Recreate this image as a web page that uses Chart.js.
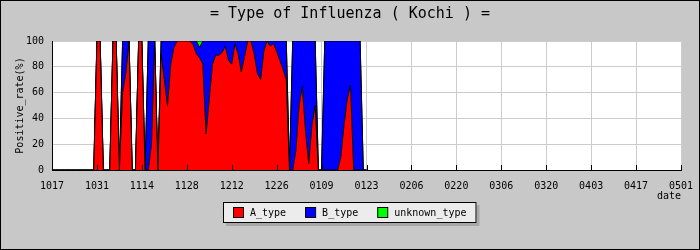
<!DOCTYPE html>
<html>
<head>
<meta charset="utf-8">
<script src="https://cdn.jsdelivr.net/npm/chart.js@4.4.1/dist/chart.umd.min.js"></script>
<style>
  html, body { margin: 0; padding: 0; background: #c8c8c8; }
  canvas { display: block; }
</style>
</head>
<body>
<canvas id="fluChart" width="700" height="250"></canvas>
<script>
// series names / colours
const seriesNames = ['A_type', 'B_type', 'unknown_type'];
const seriesColors = ['#ff0000', '#0000ff', '#00ff00'];

// x axis: one label every 14 days, day 0 = 10/17
const tickLabels = ['1017', '1031', '1114', '1128', '1212', '1226', '0109', '0123',
                    '0206', '0220', '0306', '0320', '0403', '0417', '0501'];
const tickStep = 14;

// daily positive rate (%), day 0 .. 98
const aType = [
    0, 0, 0, 0, 0, 0, 0, 0, 0, 0,
    0, 0, 0, 0, 100, 100, 0, 0, 0, 100,
    100, 0, 60, 75, 100, 0, 0, 100, 100, 0,
    0, 20, 100, 0, 90, 70, 50, 82, 95, 100,
    100, 100, 100, 100, 97, 90, 87, 82, 28, 55,
    82, 89, 89, 91, 96, 85, 82, 98, 90, 76,
    88, 100, 100, 90, 75, 70, 92, 100, 96, 98,
    92, 85, 78, 70, 0, 0, 15, 50, 65, 30,
    5, 35, 50, 0, 0, 0, 0, 0, 0, 0,
    10, 35, 55, 66, 0, 0, 0, 0, 0
];
const bType = [
    0, 0, 0, 0, 0, 0, 0, 0, 0, 0,
    0, 0, 0, 0, 0, 0, 0, 0, 0, 0,
    0, 0, 40, 25, 0, 0, 0, 0, 0, 0,
    100, 80, 0, 0, 10, 30, 50, 18, 5, 0,
    0, 0, 0, 0, 3, 10, 8, 18, 72, 45,
    18, 11, 11, 9, 4, 15, 18, 2, 10, 24,
    12, 0, 0, 10, 25, 30, 8, 0, 4, 2,
    8, 15, 22, 30, 0, 100, 85, 50, 35, 70,
    95, 65, 50, 0, 0, 100, 100, 100, 100, 100,
    90, 65, 45, 34, 100, 100, 100, 0, 0
];
const unknownType = [
    0, 0, 0, 0, 0, 0, 0, 0, 0, 0,
    0, 0, 0, 0, 0, 0, 0, 0, 0, 0,
    0, 0, 0, 0, 0, 0, 0, 0, 0, 0,
    0, 0, 0, 0, 0, 0, 0, 0, 0, 0,
    0, 0, 0, 0, 0, 0, 5, 0, 0, 0,
    0, 0, 0, 0, 0, 0, 0, 0, 0, 0,
    0, 0, 0, 0, 0, 0, 0, 0, 0, 0,
    0, 0, 0, 0, 0, 0, 0, 0, 0, 0,
    0, 0, 0, 0, 0, 0, 0, 0, 0, 0,
    0, 0, 0, 0, 0, 0, 0, 0, 0
];

const mono = "'DejaVu Sans Mono', monospace";
Chart.defaults.font.family = mono;
Chart.defaults.color = '#000';

const toPoints = arr => arr.map((v, i) => ({ x: i, y: v }));

// gray page, white plot, inward ticks, boxed legend, outer frame
const framePlugin = {
    id: 'frame',
    beforeDraw(chart) {
        const { ctx, chartArea: a } = chart;
        ctx.save();
        ctx.fillStyle = '#c8c8c8';
        ctx.fillRect(0, 0, chart.width, chart.height);
        ctx.fillStyle = '#ffffff';
        ctx.fillRect(a.left, a.top, a.right - a.left, a.bottom - a.top);
        ctx.restore();
    },
    afterDatasetsDraw(chart) {
        const { ctx, chartArea: a } = chart;
        const xs = chart.scales.x;
        ctx.save();
        ctx.strokeStyle = '#000';
        ctx.lineWidth = 1;
        xs.ticks.forEach((t, i) => {
            const px = Math.round(xs.getPixelForTick(i)) + 0.5;
            ctx.beginPath();
            ctx.moveTo(px, a.bottom - 5);
            ctx.lineTo(px, a.bottom);
            ctx.stroke();
        });
        ctx.restore();
    },
    afterDraw(chart) {
        const ctx = chart.ctx;
        ctx.save();
        ctx.font = '10px ' + mono;
        const widths = seriesNames.map(n => ctx.measureText(n).width);
        const total = 10 + widths.reduce((s, w) => s + 17 + w, 0) + 19 * (seriesNames.length - 1) + 10;
        const lx = Math.round((chart.width - total) / 2);
        const ly = 202, lh = 21;
        ctx.fillStyle = '#a8a8a8';
        ctx.fillRect(lx + 3, ly + 3, total, lh);
        ctx.fillStyle = '#ececec';
        ctx.fillRect(lx, ly, total, lh);
        ctx.strokeStyle = '#000';
        ctx.lineWidth = 1;
        ctx.strokeRect(lx + 0.5, ly + 0.5, total - 1, lh - 1);

        let x = lx + 10;
        ctx.textBaseline = 'middle';
        ctx.textAlign = 'left';
        seriesNames.forEach((n, i) => {
            ctx.fillStyle = seriesColors[i];
            ctx.fillRect(x, ly + 5, 10, 10);
            ctx.strokeRect(x + 0.5, ly + 5.5, 10, 10);
            ctx.fillStyle = '#000';
            ctx.fillText(n, x + 17, ly + 11);
            x += 17 + widths[i] + 19;
        });

        ctx.strokeRect(0.5, 0.5, chart.width - 1, chart.height - 1);
        ctx.restore();
    }
};

new Chart(document.getElementById('fluChart').getContext('2d'), {
    type: 'line',
    data: {
        datasets: [aType, bType, unknownType].map((arr, i) => ({
            label: seriesNames[i],
            data: toPoints(arr),
            backgroundColor: seriesColors[i],
            borderColor: '#000',
            borderWidth: 1,
            pointRadius: 0,
            tension: 0,
            fill: i === 0 ? 'origin' : '-1'
        }))
    },
    options: {
        responsive: false,
        animation: false,
        devicePixelRatio: 1,
        layout: { padding: { left: 0, right: 0, top: 0, bottom: 48 } },
        plugins: {
            legend: { display: false },
            tooltip: { enabled: false },
            title: {
                display: true,
                text: '= Type of Influenza ( Kochi ) =',
                color: '#000',
                font: { size: 15, weight: 'normal', lineHeight: 1.2 },
                padding: { top: 5, bottom: 18 }
            }
        },
        scales: {
            x: {
                type: 'linear',
                min: 0,
                max: (tickLabels.length - 1) * tickStep,
                afterBuildTicks: s => {
                    s.ticks = tickLabels.map((t, i) => ({ value: i * tickStep }));
                },
                // keep 19px free at the right, as in the original
                afterFit: s => { s.height = 32; s.paddingLeft = 0; s.paddingRight = 19; },
                ticks: {
                    autoSkip: false,
                    maxRotation: 0,
                    padding: 10,
                    font: { size: 10 },
                    callback: (v, i) => tickLabels[i]
                },
                grid: { color: '#cccccc', drawTicks: false },
                border: { color: '#000' },
                title: { display: true, text: 'date', align: 'end', font: { size: 10 }, padding: 0 }
            },
            y: {
                stacked: true,
                min: 0,
                max: 100,
                afterFit: s => { s.width = 52; },
                ticks: { stepSize: 20, padding: 8, font: { size: 10 } },
                grid: { color: '#cccccc', drawTicks: false },
                border: { color: '#000' },
                title: { display: true, text: 'Positive_rate(%)', font: { size: 10 }, padding: { top: 14 } }
            }
        }
    },
    plugins: [framePlugin]
});
</script>
</body>
</html>
